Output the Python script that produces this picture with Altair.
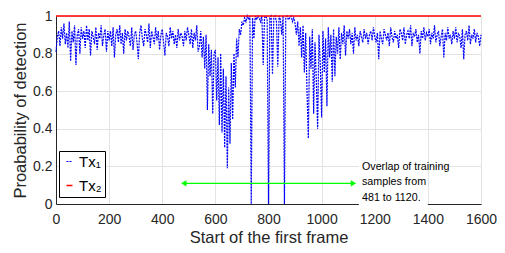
import altair as alt
import pandas as pd

# frame start positions (every 5 frames) and detection probability of Tx1
frame_start = list(range(0, 1601, 5))
tx1_prob = [
    0.81, 0.89, 0.92, 0.84, 0.94, 0.88, 0.96, 0.85, 0.91, 0.83, 0.97, 0.76, 0.92, 0.86, 0.95, 0.74, 0.90, 0.93, 0.80, 0.94,
    0.88, 0.92, 0.83, 0.95, 0.87, 0.93, 0.79, 0.92, 0.89, 0.85, 0.94, 0.82, 0.91, 0.88, 0.95, 0.84, 0.90, 0.93, 0.81, 0.92,
    0.87, 0.92, 0.84, 0.94, 0.78, 0.90, 0.93, 0.86, 0.95, 0.85, 0.91, 0.80, 0.93, 0.87, 0.92, 0.89, 0.84, 0.94, 0.82, 0.90,
    0.92, 0.86, 0.77, 0.91, 0.95, 0.88, 0.84, 0.93, 0.90, 0.86, 0.96, 0.83, 0.92, 0.89, 0.85, 0.94, 0.87, 0.92, 0.82, 0.90,
    0.93, 0.86, 0.79, 0.91, 0.89, 0.84, 0.94, 0.88, 0.92, 0.85, 0.90, 0.83, 0.93, 0.87, 0.91, 0.89, 0.84, 0.92, 0.87, 0.94,
    0.90, 0.85, 0.93, 0.83, 0.91, 0.87, 0.95, 0.81, 0.84, 0.92, 0.78, 0.89, 0.72, 0.90, 0.50, 0.85, 0.68, 0.82, 0.48, 0.80,
    0.82, 0.55, 0.78, 0.42, 0.80, 0.38, 0.72, 0.30, 0.68, 0.19, 0.62, 0.32, 0.75, 0.45, 0.80, 0.62, 0.88, 0.78, 0.93, 0.90,
    0.97, 0.95, 0.99, 0.97, 1.00, 0.98, 1.00, 0.00, 0.99, 0.88, 1.00, 0.98, 1.00, 0.99, 0.97, 1.00, 0.74, 0.99, 1.00, 0.98,
    0.00, 0.99, 1.00, 0.69, 0.99, 1.00, 0.97, 0.73, 1.00, 0.98, 0.90, 1.00, 0.00, 0.99, 1.00, 0.98, 0.99, 1.00, 0.97, 0.99,
    0.96, 0.90, 0.97, 0.84, 0.94, 0.78, 0.95, 0.70, 0.91, 0.60, 0.35, 0.89, 0.72, 0.93, 0.48, 0.86, 0.66, 0.40, 0.90, 0.74,
    0.46, 0.92, 0.70, 0.88, 0.52, 0.94, 0.78, 0.90, 0.65, 0.93, 0.68, 0.89, 0.80, 0.94, 0.77, 0.91, 0.85, 0.95, 0.79, 0.92,
    0.88, 0.93, 0.85, 0.91, 0.80, 0.94, 0.87, 0.90, 0.84, 0.92, 0.89, 0.86, 0.93, 0.88, 0.91, 0.85, 0.90, 0.92, 0.87, 0.94,
    0.89, 0.86, 0.91, 0.77, 0.92, 0.88, 0.85, 0.93, 0.90, 0.87, 0.91, 0.84, 0.94, 0.89, 0.86, 0.92, 0.88, 0.90, 0.83, 0.93,
    0.91, 0.87, 0.94, 0.85, 0.90, 0.92, 0.88, 0.95, 0.84, 0.91, 0.89, 0.93, 0.86, 0.90, 0.80, 0.92, 0.88, 0.94, 0.87, 0.91,
    0.89, 0.93, 0.85, 0.91, 0.88, 0.95, 0.86, 0.90, 0.92, 0.84, 0.89, 0.93, 0.78, 0.91, 0.87, 0.94, 0.88, 0.90, 0.85, 0.92,
    0.88, 0.94, 0.86, 0.91, 0.89, 0.83, 0.93, 0.77, 0.90, 0.92, 0.87, 0.95, 0.85, 0.90, 0.88, 0.93, 0.86, 0.91, 0.89, 0.84,
    0.90,
]
tx2_x = [0, 1600]
tx2_prob = [1.0, 1.0]

series_names = ["Tx\u2081", "Tx\u2082"]
series_colors = ["#0000ff", "#ff0000"]

x_ticks = [0, 200, 400, 600, 800, 1000, 1200, 1400, 1600]
y_ticks = [0, 0.2, 0.4, 0.6, 0.8, 1]
y_tick_labels = ["0", "0.2", "0.4", "0.6", "0.8", "1"]

arrow_x = [481, 1120]
arrow_y = [0.11, 0.11]
note_lines = ["Overlap of training", "samples from", "481 to 1120."]
note_y = [0.198, 0.115, 0.031]
note_x = 1152
note_box_x = [1140, 1400]
note_box_y = [-0.01, 0.225]

FONT = "Liberation Sans"
DARK = "#262626"

df = pd.concat([
    pd.DataFrame({"x": frame_start, "p": tx1_prob, "series": series_names[0]}),
    pd.DataFrame({"x": tx2_x, "p": tx2_prob, "series": series_names[1]}),
])

label_expr = "[" + ",".join(f"'{s}'" for s in y_tick_labels) + "][round(datum.value*5)]"

x_axis = alt.Axis(values=x_ticks, format="d", labelPadding=8, titlePadding=3,
                  labelFlush=False, labelOverlap=False, title="Start of the first frame")
y_axis = alt.Axis(values=y_ticks, labelExpr=label_expr, labelPadding=4, titlePadding=4,
                  labelFlush=False, labelOverlap=False, title="Proabability of detection")


def X(field):
    return alt.X(field, scale=alt.Scale(domain=[0, 1600], nice=False), axis=x_axis)


def Y(field):
    return alt.Y(field, scale=alt.Scale(domain=[0, 1], nice=False), axis=y_axis)


leg = alt.Legend(orient="none", legendX=3, legendY=135, symbolType="stroke",
                 symbolSize=36, symbolStrokeWidth=1.6, labelFontSize=15, labelFont=FONT,
                 labelColor="#000000", labelOffset=2, rowPadding=8, padding=3,
                 strokeColor="#000000", fillColor="#ffffff")

lines = alt.Chart(df).mark_line().encode(
    x=X("x:Q"),
    y=Y("p:Q"),
    color=alt.Color("series:N", scale=alt.Scale(domain=series_names, range=series_colors),
                    legend=leg, title=None),
    strokeDash=alt.StrokeDash("series:N",
                              scale=alt.Scale(domain=series_names, range=[[2, 1], [1, 0]]),
                              legend=leg, title=None),
    strokeWidth=alt.StrokeWidth("series:N",
                                scale=alt.Scale(domain=series_names, range=[1.2, 1.6]),
                                legend=None),
)

box_df = pd.DataFrame({"x": [note_box_x[0]], "x2": [note_box_x[1]],
                       "y": [note_box_y[0]], "y2": [note_box_y[1]]})
box = alt.Chart(box_df).mark_rect(color="#ffffff").encode(
    x=X("x:Q"), x2="x2:Q", y=Y("y:Q"), y2="y2:Q")

arrow_df = pd.DataFrame({"x": [arrow_x[0]], "x2": [arrow_x[1]], "y": [arrow_y[0]]})
arrow = alt.Chart(arrow_df).mark_rule(color="#00ff00", strokeWidth=1.3).encode(
    x=X("x:Q"), x2="x2:Q", y=Y("y:Q"))

heads_df = pd.DataFrame({"x": arrow_x, "y": arrow_y, "shape": ["triangle-left", "triangle-right"]})
heads = alt.Chart(heads_df).mark_point(filled=True, color="#00ff00", size=40, opacity=1).encode(
    x=X("x:Q"), y=Y("y:Q"),
    shape=alt.Shape("shape:N", scale=None, legend=None))

note_df = pd.DataFrame({"x": [note_x] * len(note_lines), "y": note_y, "t": note_lines})
note = alt.Chart(note_df).mark_text(align="left", baseline="middle", fontSize=10.7,
                                    font=FONT, color="#000000").encode(
    x=X("x:Q"), y=Y("y:Q"), text="t:N")

chart = alt.layer(lines, box, arrow, heads, note).properties(
    width=425, height=188,
    autosize=alt.AutoSizeParams(type="none"),
    padding={"left": 48, "top": 8, "right": 16, "bottom": 40},
).configure_view(strokeWidth=0).configure_axis(
    grid=True, gridColor="#e3e3e3", gridWidth=1,
    domainColor=DARK, domainWidth=1, ticks=False,
    labelFont=FONT, labelFontSize=14, labelColor=DARK,
    titleFont=FONT, titleFontSize=16.5, titleFontWeight="normal", titleColor=DARK,
    labelOverlap=False,
)

chart.save("out.html", embed_options={"renderer": "svg", "actions": False})
